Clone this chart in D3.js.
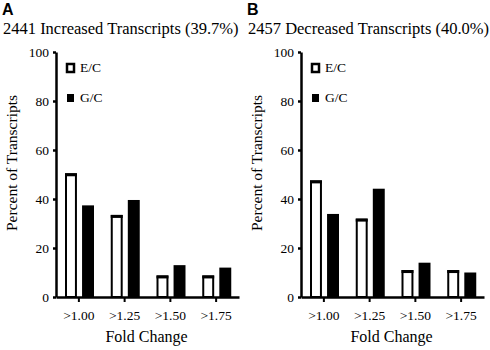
<!DOCTYPE html>
<html>
<head>
<meta charset="utf-8">
<script src="https://cdn.jsdelivr.net/npm/d3@7/dist/d3.min.js"></script>
<style>
  body { margin: 0; background: #fff; }
  text { font-family: "Liberation Serif", "Times New Roman", serif; fill: #000; }
</style>
</head>
<body>
<div id="chart"></div>
<script>
// data
let categories = ['>1.00', '>1.25', '>1.50', '>1.75']
let series = ['E/C', 'G/C']
let increasedEC = [50.5, 33.5, 8.8, 8.8]
let increasedGC = [37.4, 39.6, 13, 12]
let decreasedEC = [47.6, 32, 11, 11]
let decreasedGC = [33.9, 44.2, 14, 10]
let yTicks = [0, 20, 40, 60, 80, 100]

let panels = [
  {letter: 'A', title: '2441 Increased Transcripts (39.7%)', ec: increasedEC, gc: increasedGC, dx: 0},
  {letter: 'B', title: '2457 Decreased Transcripts (40.0%)', ec: decreasedEC, gc: decreasedGC, dx: 245}
]

let svg = d3.select('#chart').append('svg')
  .attr('width', 490)
  .attr('height', 350)

let margin = {left: 56, top: 52}
let width = 183
let height = 245

panels.forEach(function (p) {
  let g = svg.append('g').attr('transform', 'translate(' + p.dx + ',0)')

  g.append('text')
    .attr('x', 2).attr('y', 15)
    .style('font-family', 'Liberation Sans, Arial, sans-serif')
    .style('font-weight', 'bold')
    .style('font-size', '16px')
    .text(p.letter)

  g.append('text')
    .attr('x', 3).attr('y', 34)
    .style('font-size', '16.5px')
    .text(p.title)

  let canvas = g.append('g')
    .attr('transform', 'translate(' + margin.left + ',' + margin.top + ')')

  let scale_y = d3.scaleLinear().domain([0, 100]).range([height, 0])
  let scale_x = d3.scaleBand().domain(categories).range([0, width])
  let scale_s = d3.scaleBand().domain(series).range([9, 38]).paddingInner(0.3)

  let rows = categories.map((c, i) => ({cat: c, vals: [p.ec[i], p.gc[i]]}))

  let groups = canvas.selectAll('.grp')
    .data(rows)
    .enter()
    .append('g')
    .attr('transform', (d) => 'translate(' + scale_x(d.cat) + ',0)')

  groups.selectAll('rect')
    .data((d) => d.vals.map((v, k) => ({s: series[k], v: v})))
    .enter()
    .append('rect')
    .attr('x', (d) => scale_s(d.s) + (d.s === 'E/C' ? 1 : 0))
    .attr('y', (d) => scale_y(d.v) + (d.s === 'E/C' ? 1 : 0))
    .attr('width', (d) => scale_s.bandwidth() - (d.s === 'E/C' ? 2 : 0))
    .attr('height', (d) => height - scale_y(d.v) - (d.s === 'E/C' ? 1 : 0))
    .attr('fill', (d) => d.s === 'E/C' ? '#fff' : '#000')
    .attr('stroke', '#000')
    .attr('stroke-width', (d) => d.s === 'E/C' ? 2 : 0)

  // thicker cap on the open bars
  groups.append('rect')
    .attr('x', scale_s('E/C'))
    .attr('y', (d) => scale_y(d.vals[0]))
    .attr('width', scale_s.bandwidth())
    .attr('height', 3)
    .attr('fill', '#000')

  let y_axis = d3.axisLeft(scale_y).tickValues(yTicks).tickSize(3).tickSizeOuter(0).tickPadding(4)
  let ya = canvas.append('g').call(y_axis)
  ya.select('.domain').attr('stroke-width', 2.5)
  ya.selectAll('.tick line').attr('stroke-width', 2.5)
  ya.selectAll('text').style('font-size', '13.5px').style('font-family', 'Liberation Serif, serif')

  let x_axis = d3.axisBottom(scale_x).tickSize(5).tickSizeOuter(0).tickPadding(8)
  let xa = canvas.append('g')
    // transform moves the axis to the bottom
    .attr('transform', 'translate(0,' + height + ')')
    .call(x_axis)
  xa.select('.domain').attr('stroke-width', 2.5)
  xa.selectAll('.tick line').attr('stroke-width', 2)
  xa.selectAll('text').style('font-size', '13.5px').style('font-family', 'Liberation Serif, serif')

  // legend
  series.forEach(function (s, i) {
    let ly = 12 + i * 30
    canvas.append('rect')
      .attr('x', 11).attr('y', ly)
      .attr('width', 7).attr('height', 8)
      .attr('fill', s === 'E/C' ? '#fff' : '#000')
      .attr('stroke', '#000')
      .attr('stroke-width', s === 'E/C' ? 2.5 : 0)
    canvas.append('text')
      .attr('x', 24).attr('y', ly + 8)
      .style('font-size', '13.5px')
      .text(s)
  })

  canvas.append('text')
    .attr('x', width / 2 - 1).attr('y', height + 45)
    .attr('text-anchor', 'middle')
    .style('font-size', '16px')
    .text('Fold Change')

  canvas.append('text')
    .attr('transform', 'translate(' + (-39) + ',' + 111 + ') rotate(-90)')
    .attr('text-anchor', 'middle')
    .style('font-size', '15.5px')
    .text('Percent of Transcripts')
})
</script>
</body>
</html>
